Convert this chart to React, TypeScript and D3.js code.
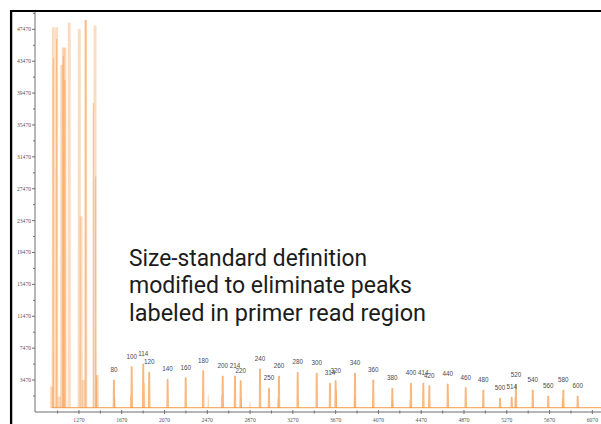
import React from 'react';
import * as d3 from 'd3';

// Primer-read region (light trace), scan position and signal height
const primerPos = [1014, 1030, 1061, 1086, 1108, 1123, 1139, 1179, 1273, 1290, 1310, 1333, 1420, 1441];
const primerHeight = [2635, 47680, 47680, 1380, 43000, 45170, 45170, 48300, 47480, 24000, 3475, 48645, 47930, 4100];

// Overlapping darker cores in the primer region
const corePos = [1030, 1061, 1123, 1139, 1333, 1404, 1426, 1436];
const coreHeight = [43870, 46240, 44100, 41100, 48645, 38230, 28990, 3900];

// Size-standard peaks with their size labels
const sizeLabels = ['80', '100', '114', '120', '140', '160', '180', '200', '214', '220', '240', '250', '260', '280', '300', '314', '320', '340', '360', '380', '400', '414', '420', '440', '460', '480', '500', '514', '520', '540', '560', '580', '600'];
const sizePos = [1597, 1763, 1871, 1927, 2099, 2268, 2432, 2614, 2729, 2782, 2963, 3047, 3140, 3315, 3493, 3617, 3670, 3851, 4022, 4200, 4374, 4490, 4546, 4718, 4886, 5051, 5207, 5316, 5356, 5513, 5658, 5799, 5933];
const sizeHeight = [3475, 5144, 5483, 4442, 3563, 3764, 4642, 3977, 3977, 3388, 4856, 2434, 3977, 4442, 4316, 3061, 3388, 4316, 3475, 2434, 3061, 3061, 2760, 2974, 2509, 2221, 1179, 1305, 2900, 2221, 1468, 2221, 1468];

// Small shoulder / companion peaks
const minorPos = [1604, 1753, 1884, 2479, 2604, 2788, 2869, 3131, 3678, 3848, 4203, 4365, 5347, 5789];
const minorHeight = [1217, 1594, 3100, 1594, 1594, 1217, 753, 1217, 2221, 1468, 966, 966, 1343, 1217];

// Axis ticks
const yTickValues = [3470, 7470, 11470, 15470, 19470, 23470, 27470, 31470, 35470, 39470, 43470, 47470];
const yMinorValues = [1470, 5470, 9470, 13470, 17470, 21470, 25470, 29470, 33470, 37470, 41470, 45470, 49470];
const xTickValues = [1270, 1670, 2070, 2470, 2870, 3270, 3670, 4070, 4470, 4870, 5270, 5670, 6070];
const xMinorValues = [1070, 1470, 1870, 2270, 2670, 3070, 3470, 3870, 4270, 4670, 5070, 5470, 5870];

const noteLines = [
  'Size-standard definition',
  'modified to eliminate peaks',
  'labeled in primer read region',
];
const noteWidths = [238, 283, 297];

export default function App() {
  const W = 601;
  const H = 424;
  const x = d3.scaleLinear().domain([859, 6151]).range([35, 601]);
  const y = d3.scaleLinear().domain([-540, 49640]).range([412, 12]);
  const line = d3.line<[number, number]>();

  const peak = (p: number, h: number, wb: number, wt: number) => {
    const cx = x(p);
    return line([
      [cx - wb, y(0)],
      [cx - wt, y(h)],
      [cx + wt, y(h)],
      [cx + wb, y(0)],
    ]) as string;
  };

  const orange = '#f7953f';

  return (
    <svg
      width={W}
      height={H}
      style={{ position: 'absolute', left: 0, top: 0, background: '#fff' }}
    >
      <rect x={0} y={0} width={W} height={H} fill="#fff" />

      {/* frame */}
      <line x1={10} x2={W} y1={11} y2={11} stroke="#000" strokeWidth={2.2} />
      <line x1={11.1} x2={11.1} y1={10} y2={H} stroke="#000" strokeWidth={2.3} />

      {/* baseline trace */}
      <line
        x1={x(1014)}
        x2={W}
        y1={y(0)}
        y2={y(0)}
        stroke={orange}
        strokeOpacity={0.75}
        strokeWidth={1.3}
      />

      {/* primer region peaks (light) */}
      <g fill={orange} fillOpacity={0.32} stroke={orange} strokeOpacity={0.15} strokeWidth={0.5}>
        {primerPos.map((p, i) => (
          <path key={'p' + i} d={peak(p, primerHeight[i], 1.5, 1.3)} />
        ))}
      </g>
      <g fill={orange} fillOpacity={0.45}>
        {corePos.map((p, i) => (
          <path key={'c' + i} d={peak(p, coreHeight[i], 0.7, 0.6)} />
        ))}
      </g>

      {/* minor peaks */}
      <g fill={orange} fillOpacity={0.4}>
        {minorPos.map((p, i) => (
          <path key={'m' + i} d={peak(p, minorHeight[i], 0.8, 0.4)} />
        ))}
      </g>

      {/* size-standard peaks */}
      <g fill={orange} fillOpacity={0.45} stroke={orange} strokeOpacity={0.75} strokeWidth={0.8}>
        {sizePos.map((p, i) => (
          <path key={'s' + i} d={peak(p, sizeHeight[i], 0.8, 0.45)} />
        ))}
      </g>
      <g fontFamily="'Liberation Sans', Arial, sans-serif" fontSize={6.3} fill="#4a4a4a" textAnchor="middle">
        {sizePos.map((p, i) => (
          <text key={'l' + i} x={x(p)} y={y(sizeHeight[i]) - 7.8}>
            {sizeLabels[i]}
          </text>
        ))}
      </g>

      {/* y axis */}
      <g stroke="#6f6f6f" strokeWidth={1}>
        <line x1={35} x2={35} y1={12} y2={y.range()[0]} />
        {yTickValues.map((v) => (
          <line key={'yt' + v} x1={32} x2={35} y1={y(v)} y2={y(v)} />
        ))}
        {yMinorValues.map((v) => (
          <line key={'ym' + v} x1={33} x2={35} y1={y(v)} y2={y(v)} />
        ))}
      </g>
      <g fontFamily="'Liberation Serif', serif" fontSize={5.6} fill="#555" textAnchor="end">
        {yTickValues.map((v) => (
          <text key={'yl' + v} x={31} y={y(v)} dy="0.35em">
            {v}
          </text>
        ))}
      </g>

      {/* x axis */}
      <g stroke="#6f6f6f" strokeWidth={1}>
        <line x1={35} x2={W} y1={412} y2={412} />
        {xTickValues.map((v) => (
          <line key={'xt' + v} x1={x(v)} x2={x(v)} y1={410} y2={414} />
        ))}
        {xMinorValues.map((v) => (
          <line key={'xm' + v} x1={x(v)} x2={x(v)} y1={410.5} y2={413.5} />
        ))}
      </g>
      <g fontFamily="'Liberation Serif', serif" fontSize={5.6} fill="#555" textAnchor="middle">
        {xTickValues.map((v) => (
          <text key={'xl' + v} x={x(v)} y={422}>
            {v}
          </text>
        ))}
      </g>

      {/* annotation */}
      <g fontFamily="Roboto, 'Noto Sans', sans-serif" fontSize={23} fill="#1c1c1c">
        {noteLines.map((t, i) => (
          <text
            key={'n' + i}
            x={129}
            y={265.5 + i * 27.7}
            textLength={noteWidths[i]}
            lengthAdjust="spacingAndGlyphs"
          >
            {t}
          </text>
        ))}
      </g>
    </svg>
  );
}
